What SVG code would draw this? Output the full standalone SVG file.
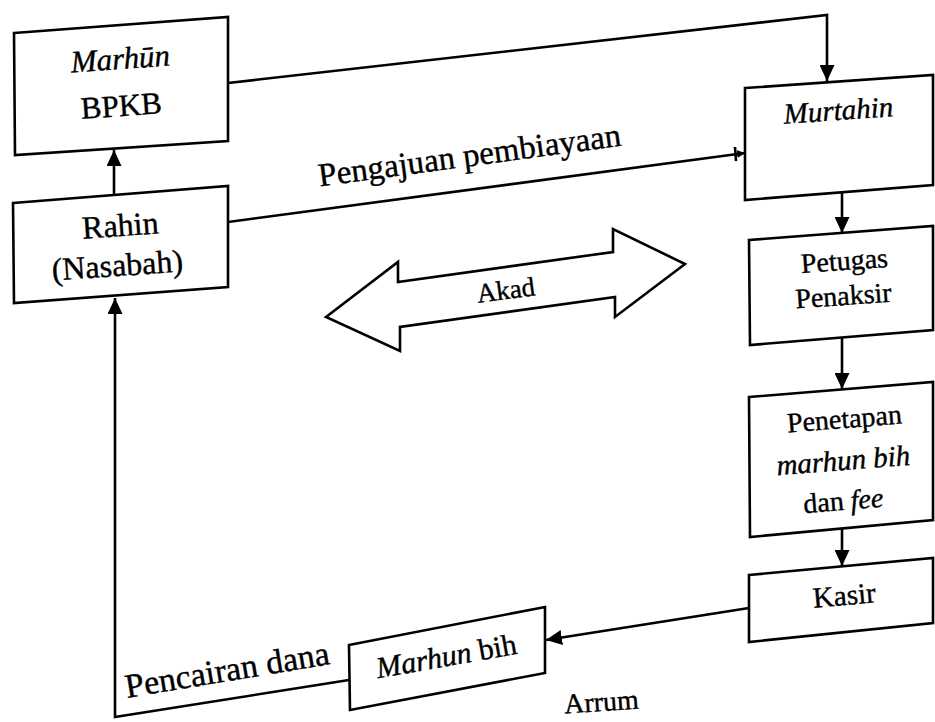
<svg xmlns="http://www.w3.org/2000/svg" width="935" height="722" viewBox="0 0 935 722" font-family="'Liberation Serif', 'Times New Roman', serif">
<style>
.box{fill:#fff;stroke:#000;stroke-width:2.6;stroke-linejoin:miter}
.conn{fill:none;stroke:#000;stroke-width:2.6}
text{font-family:"Liberation Serif","Times New Roman",serif;fill:#000;text-anchor:middle;stroke:#000;stroke-width:0.4}
.it{font-style:italic}
</style>
<defs>
<marker id="ah" markerUnits="userSpaceOnUse" markerWidth="17" markerHeight="15" refX="16" refY="7.5" orient="auto">
<path d="M0,0 L16,7.5 L0,15 z" fill="#000"/>
</marker>
<marker id="ahs" markerUnits="userSpaceOnUse" markerWidth="9" markerHeight="9" refX="8" refY="4" orient="auto">
<path d="M0,0 L8,4 L0,8 z" fill="#000"/>
</marker>
</defs>
<rect width="935" height="722" fill="#fff"/>
<g id="connectors">
<polyline class="conn" points="228,83 827,15 827,81" marker-end="url(#ah)"/>
<line class="conn" x1="114" y1="196" x2="114" y2="150" marker-end="url(#ah)"/>
<line class="conn" x1="228" y1="222" x2="745" y2="153" marker-end="url(#ahs)"/>
<line class="conn" x1="735" y1="147" x2="736" y2="161"/>
<line class="conn" x1="842" y1="192" x2="842" y2="233" marker-end="url(#ah)"/>
<line class="conn" x1="842" y1="337" x2="842" y2="389" marker-end="url(#ah)"/>
<line class="conn" x1="842" y1="528" x2="842" y2="566" marker-end="url(#ah)"/>
<line class="conn" x1="749" y1="608" x2="546" y2="640" marker-end="url(#ah)"/>
<polyline class="conn" points="349,680 115,717 115,298" marker-end="url(#ah)"/>
<path class="conn" d="M326,317 L398,262 L398,282 L613,252 L613,229 L685,264 L615,317 L615,297 L400,327 L400,351 Z"/>
</g>
<g id="node-marhun">
<polygon class="box" points="14,33 228,17 228,141 15,155"/>
<text class="it" x="121" y="69" font-size="31" transform="rotate(-4 121 69)">Marhūn</text>
<text x="122" y="116" font-size="31" transform="rotate(-4 122 116)">BPKB</text>
</g>
<g id="node-rahin">
<polygon class="box" points="13,203 228,186 228,287 14,303"/>
<text x="121" y="236" font-size="32" transform="rotate(-4 121 236)">Rahin</text>
<text x="118" y="276" font-size="32" transform="rotate(-4 118 276)">(Nasabah)</text>
</g>
<g id="node-murtahin">
<polygon class="box" points="745,88 933,75 933,185 745,200"/>
<text class="it" x="839" y="120" font-size="29" transform="rotate(-4 839 120)">Murtahin</text>
</g>
<g id="node-petugas">
<polygon class="box" points="749,240 933,226 933,330 750,345"/>
<text x="845" y="270" font-size="28" transform="rotate(-4 845 270)">Petugas</text>
<text x="844" y="305" font-size="28" transform="rotate(-4 844 305)">Penaksir</text>
</g>
<g id="node-penetapan">
<polygon class="box" points="749,397 933,382 933,520 750,537"/>
<text x="845" y="428" font-size="28" transform="rotate(-4.5 845 428)">Penetapan</text>
<text class="it" x="844" y="470" font-size="29" transform="rotate(-4.5 844 470)">marhun bih</text>
<text x="844" y="510" font-size="28" transform="rotate(-4.5 844 510)">dan <tspan class="it">fee</tspan></text>
</g>
<g id="node-kasir">
<polygon class="box" points="749,575 933,558 933,623 749,642"/>
<text x="845" y="605" font-size="29" transform="rotate(-5 845 605)">Kasir</text>
</g>
<g id="node-marhunbih">
<polygon class="box" points="349,645 545,607 545,673 350,710"/>
<text x="448" y="666" font-size="30" transform="rotate(-10 448 666)"><tspan class="it">Marhun</tspan> bih</text>
</g>
<g id="labels">
<text x="471" y="166" font-size="33" transform="rotate(-7.7 471 166)">Pengajuan pembiayaan</text>
<text x="507" y="299" font-size="27" transform="rotate(-7.5 507 299)">Akad</text>
<text x="229" y="681" font-size="34" transform="rotate(-9.4 229 681)">Pencairan dana</text>
<text x="602" y="711" font-size="28" transform="rotate(-4 602 711)">Arrum</text>
</g>
</svg>
